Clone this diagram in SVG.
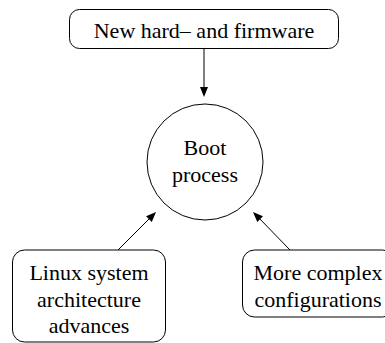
<svg xmlns="http://www.w3.org/2000/svg" width="385" height="343" viewBox="0 0 385 343" font-family="Liberation Serif">
  <style>
    .box { fill: #fff; stroke: #000; stroke-width: 1; }
    .edge { stroke: #000; stroke-width: 1; fill: none; }
    .head { fill: #000; stroke: none; }
  </style>
  <g id="connectors">
    <line class="edge" x1="204" y1="48.5" x2="204" y2="90"/>
    <polygon class="head" points="204,97 200,87 208,87"/>
    <line class="edge" x1="118" y1="250" x2="151" y2="217"/>
    <polygon class="head" points="156,212 146.1,216.2 151.8,221.9"/>
    <line class="edge" x1="290" y1="250" x2="258" y2="217"/>
    <polygon class="head" points="253,212 257.3,221.9 263.0,216.3"/>
  </g>
  <g id="n-firmware">
    <rect class="box" x="69.5" y="9.5" width="269" height="39" rx="10"/>
    <text x="204" y="37.5" font-family="Times New Roman" font-size="22" text-anchor="middle">New hard– and firmware</text>
  </g>
  <g id="n-boot">
    <circle class="box" cx="205" cy="162" r="58"/>
    <text x="205" y="154.5" font-family="Times New Roman" font-size="22" text-anchor="middle">Boot</text>
    <text x="205" y="181.5" font-family="Times New Roman" font-size="22" text-anchor="middle">process</text>
  </g>
  <g id="n-linux">
    <rect class="box" x="12.5" y="250" width="153" height="92" rx="12"/>
    <text x="89" y="279.5" font-family="Times New Roman" font-size="22" text-anchor="middle">Linux system</text>
    <text x="89" y="306.5" font-family="Times New Roman" font-size="22" text-anchor="middle">architecture</text>
    <text x="89" y="332.5" font-family="Times New Roman" font-size="22" text-anchor="middle">advances</text>
  </g>
  <g id="n-config">
    <rect class="box" x="242.5" y="250" width="152" height="67" rx="12"/>
    <text x="318" y="279.5" font-family="Times New Roman" font-size="22" text-anchor="middle">More complex</text>
    <text x="318" y="306.5" font-family="Times New Roman" font-size="22" text-anchor="middle">configurations</text>
  </g>
</svg>
